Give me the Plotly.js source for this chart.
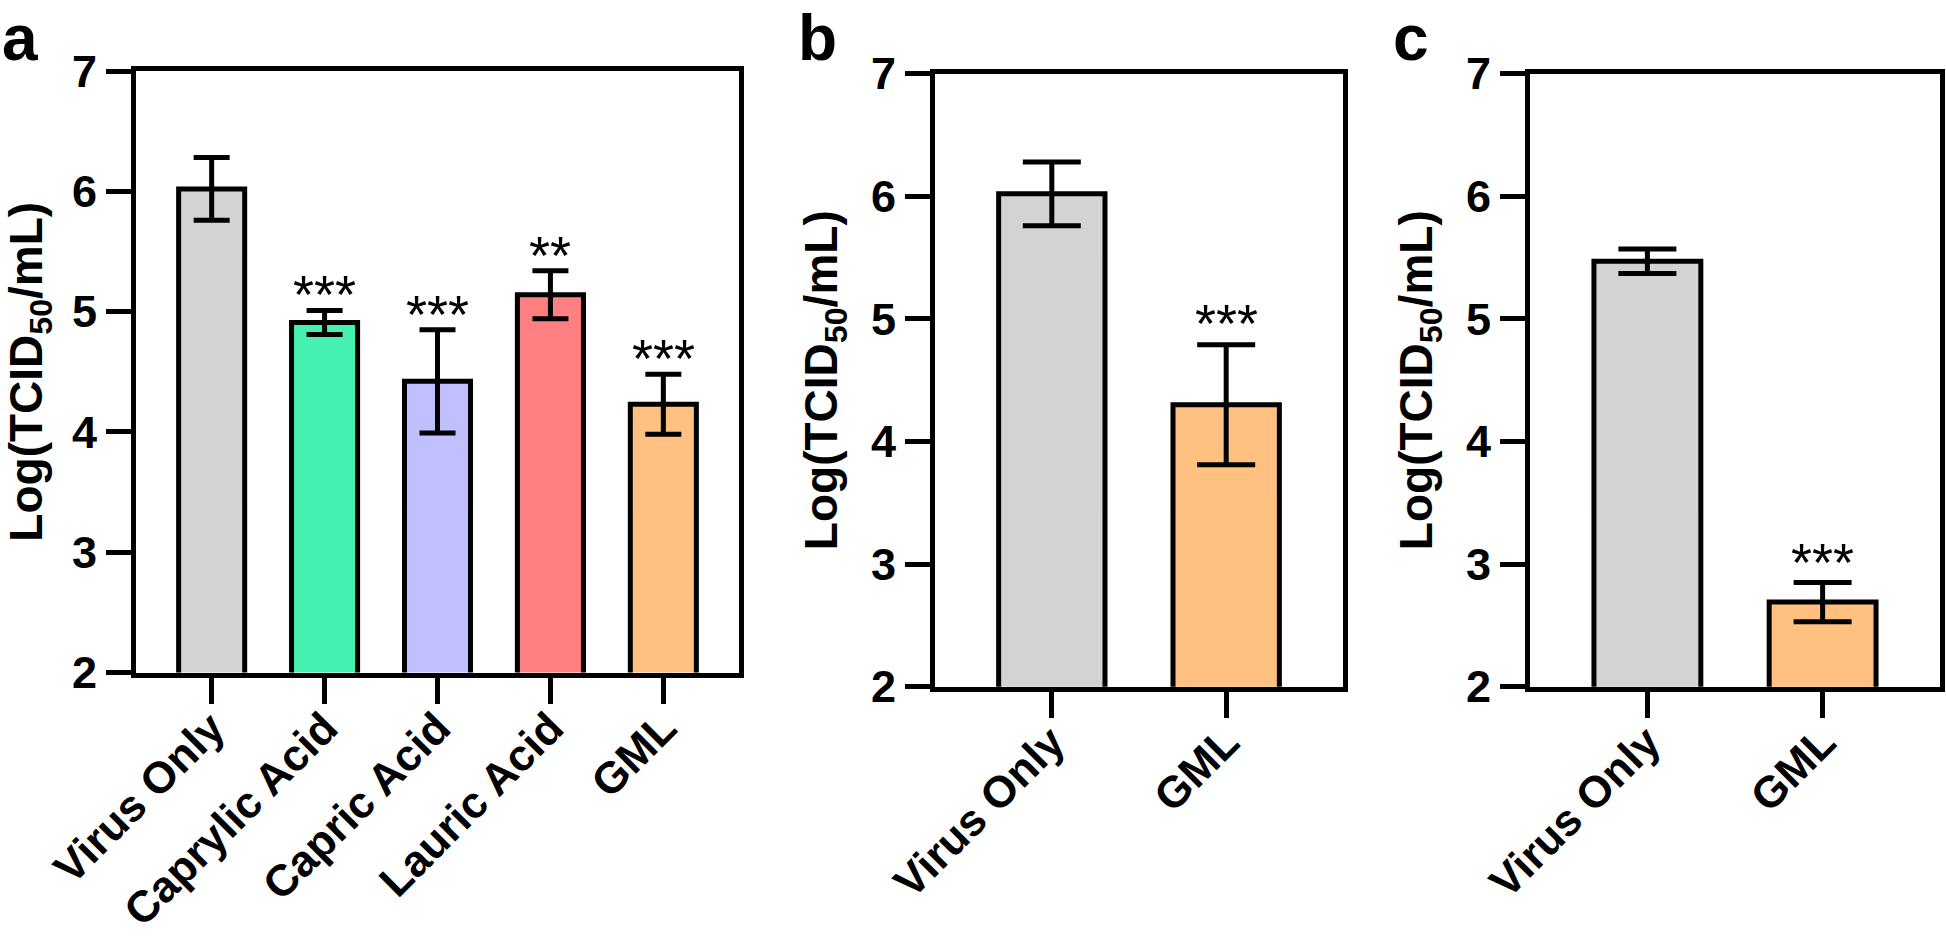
<!DOCTYPE html>
<html>
<head>
<meta charset="utf-8">
<script src="https://cdn.plot.ly/plotly-3.0.1.min.js"></script>
<style>
  html, body { margin: 0; padding: 0; background: #ffffff; }
  #chart { width: 1946px; height: 939px; }
</style>
</head>
<body>
<div id="chart"></div>
<script>
// ---------- data ----------
const catsA   = ['Virus Only', 'Caprylic Acid', 'Capric Acid', 'Lauric Acid', 'GML'];
const meanA   = [6.02, 4.91, 4.42, 5.14, 4.23];
const errA    = [0.26, 0.10, 0.43, 0.20, 0.25];
const starsA  = ['', '***', '***', '**', '***'];
const colorsA = ['#D3D3D3', '#45F0B0', '#C0C0FF', '#FF8080', '#FFC080'];

const catsB   = ['Virus Only', 'GML'];
const meanB   = [6.02, 4.30];
const errB    = [0.26, 0.49];
const starsB  = ['', '***'];

const catsC   = ['Virus Only', 'GML'];
const meanC   = [5.47, 2.69];
const errC    = [0.10, 0.16];
const starsC  = ['', '***'];

const colorsBC = ['#D3D3D3', '#FFC080'];

const yTicks = [2, 3, 4, 5, 6, 7];
const yTitle = 'Log(TCID<sub>50</sub>/mL)';
const panelLetters = ['a', 'b', 'c'];

// ---------- layout helpers ----------
const W = 1946, H = 939;
const px = v => v / W;
const py = v => 1 - v / H;
const FONT = 'Liberation Sans, Arial, Helvetica, sans-serif';
const LW = 5;

function barTrace(cats, means, errs, colors, xa, ya, width, capw) {
  return {
    type: 'bar',
    x: cats,
    y: means,
    xaxis: xa,
    yaxis: ya,
    width: width,
    marker: { color: colors, line: { color: '#000000', width: LW } },
    error_y: { type: 'data', array: errs, visible: true, color: '#000000', thickness: LW, width: capw },
    hoverinfo: 'x+y',
    showlegend: false
  };
}

const traces = [
  barTrace(catsA, meanA, errA, colorsA, 'x', 'y', 0.585, 18),
  barTrace(catsB, meanB, errB, colorsBC, 'x2', 'y2', 0.61, 29),
  barTrace(catsC, meanC, errC, colorsBC, 'x3', 'y3', 0.61, 29)
];

function xAxis(domain, range, anchor) {
  return {
    domain: domain, anchor: anchor, type: 'category', range: range,
    showline: true, linewidth: LW, linecolor: '#000', mirror: true,
    ticks: 'outside', ticklen: 26, tickwidth: LW, tickcolor: '#000',
    tickangle: -45, ticklabelstandoff: -19,
    tickfont: { family: FONT, size: 44, color: '#000', weight: 'bold' },
    showgrid: false, zeroline: false, fixedrange: true
  };
}
function yAxis(domain, anchor) {
  return {
    domain: domain, anchor: anchor, range: [2, 7],
    tickvals: yTicks, ticktext: yTicks.map(String),
    showline: true, linewidth: LW, linecolor: '#000', mirror: true,
    ticks: 'outside', ticklen: 25, tickwidth: LW, tickcolor: '#000',
    tickfont: { family: FONT, size: 45, color: '#000', weight: 'bold' },
    title: { text: yTitle, font: { family: FONT, size: 46, color: '#000', weight: 'bold' }, standoff: 20 },
    showgrid: false, zeroline: false, fixedrange: true
  };
}

const annotations = [];
function addStars(cats, means, errs, stars, xr, yr, shift) {
  cats.forEach((c, i) => {
    if (!stars[i]) return;
    annotations.push({
      x: c, y: means[i] + errs[i], xref: xr, yref: yr,
      text: stars[i], showarrow: false, yanchor: 'bottom', xanchor: 'center',
      yshift: shift,
      font: { family: FONT, size: 54, color: '#000' }
    });
  });
}
addStars(catsA, meanA, errA, starsA, 'x', 'y', -16);
addStars(catsB, meanB, errB, starsB, 'x2', 'y2', -10);
addStars(catsC, meanC, errC, starsC, 'x3', 'y3', -12);

const letterX = [0, 796, 1391];
panelLetters.forEach((t, i) => {
  annotations.push({
    x: px(letterX[i]), y: 1, xref: 'paper', yref: 'paper',
    text: t, showarrow: false, xanchor: 'left', yanchor: 'top',
    font: { family: FONT, size: 64, color: '#000', weight: 'bold' }
  });
});

const layout = {
  width: W, height: H,
  margin: { l: 0, r: 0, t: 0, b: 0 },
  paper_bgcolor: '#fff', plot_bgcolor: '#fff',
  font: { family: FONT, color: '#000' },
  bargap: 0.4,
  xaxis:  xAxis([px(136),  px(739)],  [-0.67, 4.67], 'y'),
  yaxis:  yAxis([py(672.5), py(71)], 'x'),
  xaxis2: xAxis([px(935),  px(1343)], [-0.67, 1.67], 'y2'),
  yaxis2: yAxis([py(686.7), py(73.7)], 'x2'),
  xaxis3: xAxis([px(1530), px(1940)], [-0.67, 1.67], 'y3'),
  yaxis3: yAxis([py(686.7), py(73.7)], 'x3'),
  annotations: annotations
};

Plotly.newPlot('chart', traces, layout, { displayModeBar: false, staticPlot: true });
</script>
</body>
</html>
